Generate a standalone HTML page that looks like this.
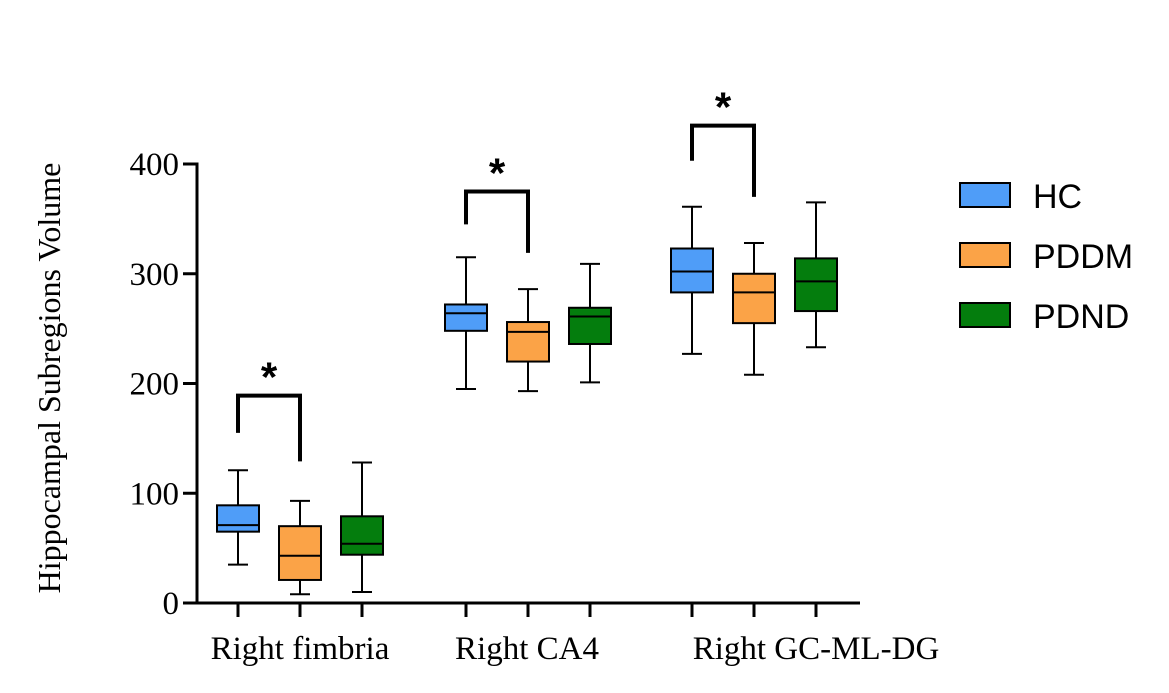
<!DOCTYPE html>
<html><head><meta charset="utf-8"><style>
body{margin:0;background:#fff}
svg{display:block}
.serif{font-family:"Liberation Serif",serif}
.sans{font-family:"Liberation Sans",sans-serif}
</style></head><body>
<svg id="chart" width="1169" height="693" viewBox="0 0 1169 693" xmlns="http://www.w3.org/2000/svg"></svg>
<script>
const categories=["Right fimbria","Right CA4","Right GC-ML-DG"];
const groups=["HC","PDDM","PDND"];
const colors=["#4f9df8","#fba347","#047d0d"];
// per category: [min,q1,median,q3,max]
const hcStats=[[35,65,71,89,121],[195,248,264,272,315],[227,283,302,323,361]];
const pddmStats=[[8,21,43,70,93],[193,220,247,256,286],[208,255,283,300,328]];
const pndStats=[[10,44,54,79,128],[201,236,261,269,309],[233,266,293,314,365]];
const yTicks=[0,100,200,300,400];
const sigCats=[0,1,2];
const bracketTop=[189,375,435];
const bracketLeftEnd=[155,345,403];
const bracketRightEnd=[129,319,370];

const svg=document.getElementById('chart');
const NS="http://www.w3.org/2000/svg";
const y0=603,y400=164,xL=197,xR=860;
const yS=v=>y0-(v/400)*(y0-y400);
const catX=[300,528,754],gap=62;
const labelX=[300,527,816];
const xS=(c,g)=>catX[c]+(g-1)*gap;
function el(t,a,p){const e=document.createElementNS(NS,t);for(const k in a)e.setAttribute(k,a[k]);(p||svg).appendChild(e);return e;}
const all=[hcStats,pddmStats,pndStats];
categories.forEach((c,ci)=>{
  groups.forEach((g,gi)=>{
    const s=all[gi][ci],x=xS(ci,gi),w=21;
    const grp=el('g',{});
    
    
    el('line',{x1:x,x2:x,y1:yS(s[0]),y2:yS(s[1]),stroke:'#000','stroke-width':2},grp);
    el('line',{x1:x,x2:x,y1:yS(s[3]),y2:yS(s[4]),stroke:'#000','stroke-width':2},grp);
    el('line',{x1:x-10,x2:x+10,y1:yS(s[0]),y2:yS(s[0]),stroke:'#000','stroke-width':2},grp);
    el('line',{x1:x-10,x2:x+10,y1:yS(s[4]),y2:yS(s[4]),stroke:'#000','stroke-width':2},grp);
    el('rect',{x:x-w,y:yS(s[3]),width:2*w,height:yS(s[1])-yS(s[3]),fill:colors[gi],stroke:'#000','stroke-width':2},grp);
    el('line',{x1:x-w,x2:x+w,y1:yS(s[2]),y2:yS(s[2]),stroke:'#000','stroke-width':2},grp);
  });
});
const ax=el('g',{});


el('line',{x1:xL,x2:xL,y1:y400-1.5,y2:y0+1.5,stroke:'#000','stroke-width':3},ax);
yTicks.forEach(v=>{
  el('line',{x1:xL-14,x2:xL,y1:yS(v),y2:yS(v),stroke:'#000','stroke-width':3},ax);
  const t=el('text',{x:xL-18,y:yS(v)+11,'text-anchor':'end','font-size':33,class:'serif'},ax);
  t.textContent=v;
});
const xa=el('g',{});


el('line',{x1:xL,x2:xR,y1:y0,y2:y0,stroke:'#000','stroke-width':3},xa);
categories.forEach((c,ci)=>{
  groups.forEach((g,gi)=>el('line',{x1:xS(ci,gi),x2:xS(ci,gi),y1:y0,y2:y0+14,stroke:'#000','stroke-width':3},xa));
  const t=el('text',{x:labelX[ci],y:659,'text-anchor':'middle','font-size':33,class:'serif'},xa);
  
  
  t.textContent=c;
});
const yt=el('text',{x:0,y:0,transform:'translate(60,378) rotate(-90)','text-anchor':'middle','font-size':32,class:'serif'});


yt.textContent='Hippocampal Subregions Volume';
sigCats.forEach((ci,i)=>{
  const xa1=xS(ci,0),xb=xS(ci,1),yt2=yS(bracketTop[i]);
  const g=el('g',{});
  
  
  el('polyline',{points:`${xa1},${yS(bracketLeftEnd[i])} ${xa1},${yt2} ${xb},${yt2} ${xb},${yS(bracketRightEnd[i])}`,fill:'none',stroke:'#000','stroke-width':4},g);
  const s=el('text',{x:(xa1+xb)/2,y:yt2-4,'text-anchor':'middle','font-size':42,'font-weight':'bold',class:'sans'},g);
  s.textContent='*';
});
groups.forEach((g,gi)=>{
  const gr=el('g',{});
  
  
  const y=183+gi*60;
  el('rect',{x:960,y:y,width:50,height:24,fill:colors[gi],stroke:'#000','stroke-width':2},gr);
  const t=el('text',{x:1033,y:y+25,'font-size':34,class:'sans'},gr);
  t.textContent=g;
});
</script>
</body></html>
